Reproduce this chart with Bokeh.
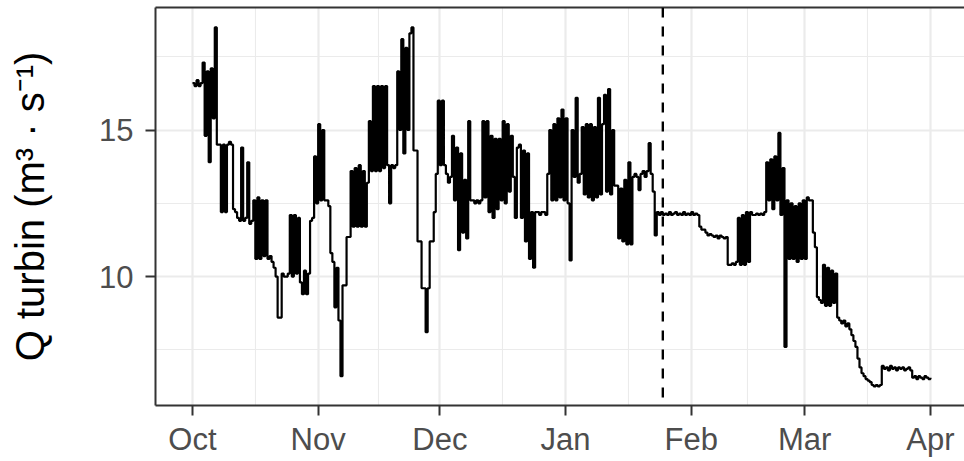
import pandas as pd
from bokeh.plotting import figure
from bokeh.models import FixedTicker, DatetimeTickFormatter, Range1d, Span, LinearAxis, DatetimeAxis, Grid
from bokeh.embed import file_html
from bokeh.resources import INLINE

# ---------------- data ----------------
start_date = "2017-10-01"          # first sample, one sample every 12 h
sample_freq = "12h"

q_turbin = [
    16.6, 16.5, 16.7, 16.5, 16.6, 17.3, 14.8, 17.0, 13.9, 17.1,   # day 0
    15.4, 18.5, 14.5, 14.5, 12.2, 14.5, 12.2, 14.5, 14.6, 14.5,   # day 5
    12.3, 12.2, 12.0, 11.9, 14.4, 11.9, 12.0, 13.9, 11.8, 11.9,   # day 10
    12.6, 10.6, 12.7, 10.6, 12.6, 10.7, 12.6, 10.6, 10.7, 10.5,   # day 15
    10.3, 10.0, 8.6, 8.6, 10.1, 10.0, 10.0, 10.1, 12.1, 10.0,     # day 20
    12.1, 10.1, 12.0, 9.8, 9.4, 10.2, 9.4, 10.1, 11.9, 12.0,      # day 25
    14.1, 12.5, 15.2, 12.6, 15.0, 12.6, 12.6, 12.4, 10.8, 10.5,   # day 30
    8.95, 10.3, 8.5, 6.6, 9.7, 9.7, 11.35, 11.35, 13.6, 11.7,     # day 35
    13.7, 11.7, 13.8, 11.7, 13.6, 11.7, 13.2, 15.3, 13.6, 16.5,   # day 40
    13.6, 16.5, 13.6, 16.5, 13.7, 16.5, 13.8, 12.5, 13.8, 13.7,   # day 45
    13.8, 17.0, 15.0, 18.1, 14.2, 17.8, 15.0, 18.3, 18.5, 14.3,   # day 50
    14.3, 11.2, 11.2, 9.6, 9.6, 8.1, 9.6, 11.2, 11.2, 12.2,       # day 55
    13.5, 16.0, 13.8, 16.0, 13.8, 13.5, 13.2, 13.4, 14.8, 12.6,   # day 60
    14.4, 10.9, 14.2, 11.5, 13.3, 11.3, 15.3, 12.6, 12.6, 12.5,   # day 65
    12.6, 12.5, 12.6, 15.3, 12.7, 15.3, 12.2, 14.8, 12.0, 14.7,   # day 70
    12.3, 14.7, 12.6, 15.3, 12.5, 15.2, 12.9, 14.8, 13.4, 12.0,   # day 75
    14.4, 14.5, 12.0, 14.3, 11.2, 14.2, 10.6, 12.2, 10.3, 12.2,   # day 80
    12.2, 12.1, 12.2, 12.2, 12.1, 13.5, 15.0, 12.6, 15.2, 12.6,   # day 85
    15.4, 12.7, 15.7, 12.6, 15.4, 12.5, 10.55, 15.0, 13.4, 16.1,  # day 90
    13.2, 13.5, 15.1, 12.8, 15.2, 12.7, 15.2, 12.6, 15.1, 12.7,   # day 95
    16.1, 12.8, 15.2, 16.2, 12.9, 16.4, 12.8, 15.0, 13.1, 13.1,   # day 100
    11.3, 13.0, 11.2, 13.3, 11.1, 13.9, 11.1, 13.4, 13.5, 13.4,   # day 105
    12.95, 13.5, 13.6, 13.4, 13.6, 14.55, 13.5, 12.9, 11.4, 12.2, # day 110
    12.1, 12.2, 12.1, 12.15, 12.1, 12.2, 12.1, 12.15, 12.2, 12.1, # day 115
    12.15, 12.1, 12.2, 12.1, 12.15, 12.1, 12.2, 12.1, 12.15, 12.1,# day 120
    11.7, 11.6, 11.6, 11.5, 11.4, 11.45, 11.4, 11.35, 11.4, 11.3, # day 125
    11.4, 11.35, 11.3, 11.35, 10.4, 10.4, 10.45, 10.4, 10.5, 12.0,# day 130
    10.4, 12.1, 10.4, 12.2, 10.5, 12.2, 12.1, 12.1, 12.15, 12.1,  # day 135
    12.15, 12.1, 12.2, 13.9, 12.6, 14.0, 12.3, 14.1, 12.6, 14.9,  # day 140
    12.1, 13.7, 7.6, 12.6, 10.6, 12.5, 10.6, 12.4, 10.5, 12.5,    # day 145
    10.6, 12.6, 10.6, 12.7, 12.6, 12.6, 11.5, 11.0, 9.3, 9.2,     # day 150
    9.1, 10.4, 9.0, 10.3, 9.0, 10.2, 9.1, 10.1, 8.6, 8.5,         # day 155
    8.4, 8.5, 8.3, 8.4, 8.2, 8.0, 7.8, 7.6, 7.2, 6.9,             # day 160
    6.7, 6.6, 6.5, 6.45, 6.4, 6.3, 6.25, 6.3, 6.25, 6.3,          # day 165
    6.95, 6.85, 6.9, 6.8, 6.95, 6.85, 6.9, 6.8, 6.9, 6.85,        # day 170
    6.9, 6.8, 6.85, 6.9, 6.8, 6.55, 6.6, 6.5, 6.6, 6.55,          # day 175
    6.5, 6.6, 6.55, 6.5, 6.55,                                    # day 180
]

month_starts = ["2017-10-01", "2017-11-01", "2017-12-01", "2018-01-01",
                "2018-02-01", "2018-03-01", "2018-04-01"]
month_labels = ["Oct", "Nov", "Dec", "Jan", "Feb", "Mar", "Apr"]
y_major = [10, 15]
y_minor = [7.5, 12.5, 17.5]
event_date = "2018-01-25"
y_title = "Q turbin (m\u00b3 \u00b7 s\u207b\u00b9)"

# ---------------- build ----------------
t = pd.date_range(start_date, periods=len(q_turbin), freq=sample_freq)


def ms(d):
    return pd.Timestamp(d).value / 1e6


major_ms = [ms(d) for d in month_starts]
minor_ms = [(a + b) / 2 for a, b in zip(major_ms[:-1], major_ms[1:])]

t0 = pd.Timestamp(start_date)
x_start = t0 - pd.Timedelta(days=9.12)
x_end = t0 + pd.Timedelta(days=190.4)

p = figure(width=964, height=461, x_axis_type=None,
           x_range=Range1d(x_start, x_end), y_range=Range1d(5.6, 19.18),
           output_backend="svg", toolbar_location=None,
           min_border_left=155, min_border_right=0, min_border_top=7,
           min_border_bottom=56)
p.background_fill_color = "white"
p.border_fill_color = "white"
p.outline_line_color = None

xaxis = DatetimeAxis(ticker=FixedTicker(ticks=major_ms, minor_ticks=minor_ms),
                     formatter=DatetimeTickFormatter(days="%b", months="%b", years="%b"))
xaxis.major_label_overrides = {m: l for m, l in zip(major_ms, month_labels)}
p.add_layout(xaxis, "below")

# top border (panel is cropped on the right in the reference)
top_axis = LinearAxis(ticker=FixedTicker(ticks=[]), axis_line_color="#333333",
                      axis_line_width=2, major_tick_line_color=None,
                      minor_tick_line_color=None, major_label_text_font_size="0px",
                      major_label_standoff=0, major_tick_out=0)
p.add_layout(top_axis, "above")

yaxis = p.yaxis[0]
yaxis.ticker = FixedTicker(ticks=y_major, minor_ticks=y_minor)

for ax in (xaxis, yaxis):
    ax.axis_line_color = "#333333"
    ax.axis_line_width = 2
    ax.major_tick_line_color = "#333333"
    ax.major_tick_line_width = 2
    ax.major_tick_out = 10
    ax.major_tick_in = 0
    ax.minor_tick_line_color = None
    ax.major_label_text_font = "Liberation Sans"
    ax.major_label_text_font_size = "31px"
    ax.major_label_text_color = "#4D4D4D"

xaxis.major_label_standoff = 6
yaxis.major_label_standoff = 12
yaxis.axis_label = y_title
yaxis.axis_label_text_font = "Liberation Sans"
yaxis.axis_label_text_font_size = "40px"
yaxis.axis_label_text_font_style = "normal"
yaxis.axis_label_text_color = "black"
yaxis.axis_label_standoff = 44

xgrid = Grid(dimension=0, ticker=xaxis.ticker)
p.add_layout(xgrid)
for g in (xgrid, p.ygrid[0]):
    g.grid_line_color = "#EBEBEB"
    g.grid_line_width = 2.2
    g.minor_grid_line_color = "#EBEBEB"
    g.minor_grid_line_width = 1.1

p.step(t, q_turbin, line_color="black", line_width=2.2, mode="after")

p.add_layout(Span(location=ms(event_date), dimension="height",
                  line_color="black", line_width=2.4, line_dash="10 9"))

open("out.html", "w").write(file_html(p, INLINE))
